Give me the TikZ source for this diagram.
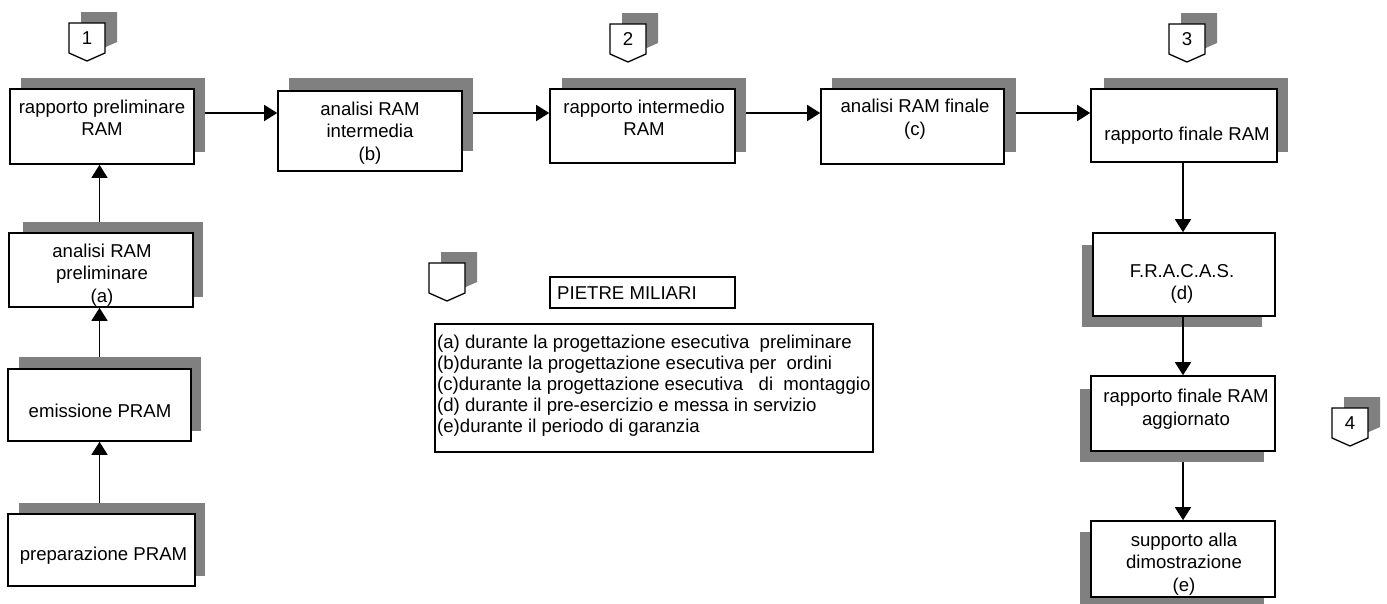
\documentclass[tikz,border=0pt]{standalone}
\usepackage{fontspec}
\setmainfont{Liberation Sans}
\usetikzlibrary{arrows.meta,calc}
\definecolor{shade}{HTML}{808080}
\begin{document}
\begin{tikzpicture}[x=1pt,y=-1pt,
  shadowbox/.style={fill=shade, draw=none, inner sep=0pt},
  box/.style={draw, fill=white, line width=1.6pt, inner sep=0pt},
  txt/.style={font=\fontsize{18.6}{22.5}\selectfont, align=center, inner sep=0pt},
  arr/.style={line width=1.5pt, -{Triangle[width=16pt,length=13pt]}},
  milestone/.pic={
    \path[fill=shade] (12,-11) -- ++(36,0) -- ++(0,30) -- ++(-18,8) -- ++(-18,-8) -- cycle;
    \draw[line width=1.3pt, fill=white] (0,0) -- ++(36,0) -- ++(0,30) -- ++(-18,8) -- ++(-18,-8) -- cycle;
    \node[txt] (-num) at (18,15.5) {#1};
  }]
\useasboundingbox (0,0) rectangle (1387,603);

% ---- shadows ----
\node[shadowbox, minimum width=184pt, minimum height=74pt] (s1) at (113,115) {};
\node[shadowbox, minimum width=184pt, minimum height=73pt] (s2) at (381,114.5) {};
\node[shadowbox, minimum width=184pt, minimum height=74pt] (s3) at (654,115) {};
\node[shadowbox, minimum width=184pt, minimum height=74pt] (s4) at (924,115) {};
\node[shadowbox, minimum width=184pt, minimum height=74pt] (s5) at (1196,115) {};
\node[shadowbox, minimum width=180pt, minimum height=75pt] (sA) at (113,259.5) {};
\node[shadowbox, minimum width=182pt, minimum height=74pt] (sE) at (110,394) {};
\node[shadowbox, minimum width=186pt, minimum height=73pt] (sP) at (112,539.5) {};
\node[shadowbox, minimum width=180pt, minimum height=82pt] (sF) at (1172,286) {};
\node[shadowbox, minimum width=184pt, minimum height=73pt] (sG) at (1172,425.5) {};
\node[shadowbox, minimum width=184pt, minimum height=76pt] (sS) at (1172,570) {};

% ---- boxes ----
\node[box, minimum width=184pt, minimum height=75pt] (b1) at (102,126.5) {};
\node[box, minimum width=184pt, minimum height=80pt] (b2) at (370,131) {};
\node[box, minimum width=185pt, minimum height=74pt] (b3) at (642.5,126) {};
\node[box, minimum width=183pt, minimum height=75pt] (b4) at (912.5,126.5) {};
\node[box, minimum width=186pt, minimum height=73pt] (b5) at (1184,125.5) {};
\node[box, minimum width=184pt, minimum height=74pt] (bA) at (101,270) {};
\node[box, minimum width=183pt, minimum height=72pt] (bE) at (99.5,405) {};
\node[box, minimum width=187pt, minimum height=72pt] (bP) at (101.5,550) {};
\node[box, minimum width=182pt, minimum height=83pt] (bF) at (1184,274.5) {};
\node[box, minimum width=184pt, minimum height=75pt] (bG) at (1183,413.5) {};
\node[box, minimum width=184pt, minimum height=76pt] (bS) at (1183,559) {};

% ---- box texts ----
\node[txt] (t1) at (102,118) {rapporto preliminare\\RAM};
\node[txt] (t2) at (370,133) {analisi RAM\\intermedia\\(b)};
\node[txt] (t3) at (644,118) {rapporto intermedio\\RAM};
\node[txt] (t4) at (915,119) {analisi RAM finale\\(c)};
\node[txt] (t5) at (1187,136) {rapporto finale RAM};
\node[txt] (tA) at (102,275) {analisi RAM\\preliminare\\(a)};
\node[txt] (tE) at (100,411) {emissione PRAM};
\node[txt] (tP) at (103.5,556) {preparazione PRAM};
\node[txt] (tF) at (1182,284) {F.R.A.C.A.S.\\(d)};
\node[txt] (tG) at (1186,409) {rapporto finale RAM\\aggiornato};
\node[txt] (tS) at (1184,564) {supporto alla\\dimostrazione\\(e)};

% ---- milestones ----
\pic (m1) at (69,23) {milestone=1};
\pic (m2) at (610,24) {milestone=2};
\pic (m3) at (1169,24) {milestone=3};
\pic (m4) at (1332,408) {milestone=4};
\pic (mL) at (429,263) {milestone={}};

% ---- legend ----
\node[box, line width=1.5pt, minimum width=185pt, minimum height=31pt] (pm) at (642.5,292.5) {};
\node[txt, anchor=west] (pmt) at (557,293.5) {PIETRE MILIARI};
\node[box, line width=1.5pt, minimum width=438pt, minimum height=128pt] (leg) at (654,388) {};
\node[txt, align=left, anchor=north west, font=\fontsize{18.6}{21}\selectfont] (legt) at (437,334.5)
  {(a) durante la progettazione esecutiva\ \ preliminare\\
   (b)durante la progettazione esecutiva per\ \ ordini\\
   (c)durante la progettazione esecutiva\ \ \ di\ \ montaggio\\
   (d) durante il pre-esercizio e messa in servizio\\
   (e)durante il periodo di garanzia};

% ---- connectors ----
\coordinate (a1) at ($(s1.east)+(0,-2)$);
\draw[arr] (a1) -- (a1 -| b2.west);
\coordinate (a2) at ($(s2.east)+(0,-1.5)$);
\draw[arr] (a2) -- (a2 -| b3.west);
\coordinate (a3) at ($(s3.east)+(0,-2)$);
\draw[arr] (a3) -- (a3 -| b4.west);
\coordinate (a4) at ($(s4.east)+(0,-2)$);
\draw[arr] (a4) -- (a4 -| b5.west);

\draw[arr] (sP.north -| bE.south) -- (bE.south);
\draw[arr] (sE.north -| bE.south) -- (bA.south -| bE.south);
\draw[arr] (sA.north -| bE.south) -- (b1.south -| bE.south);

\draw[arr] (b5.south -| bG.north) -- (bF.north -| bG.north);
\draw[arr] (bF.south -| bG.north) -- (bG.north);
\draw[arr] (sG.south -| bG.south) -- (bS.north -| bG.south);
\end{tikzpicture}
\end{document}
